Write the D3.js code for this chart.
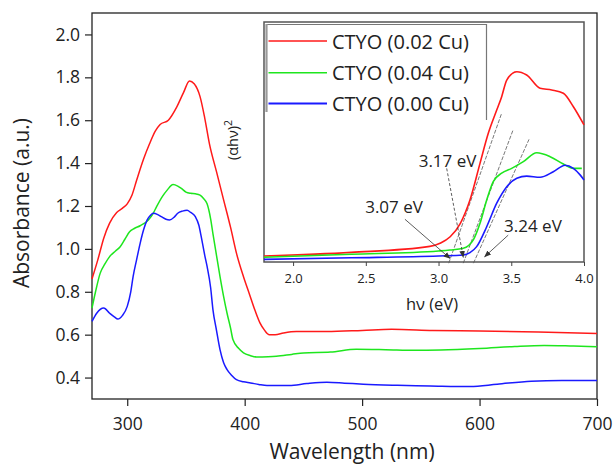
<!DOCTYPE html>
<html>
<head>
<meta charset="utf-8">
<script src="https://cdn.jsdelivr.net/npm/d3@7"></script>
<style>
  body { margin: 0; background: #fff; }
  svg { display: block; font-family: "Open Sans", sans-serif; }
</style>
</head>
<body>
<svg id="chart" width="614" height="465"></svg>
<script>

// main spectra: [wavelength nm, absorbance]
var cu002 = [[270,0.86],[275,0.95],[280,1.05],[285,1.12],[291,1.17],[296,1.19],[300,1.21],[304,1.25],[308,1.32],[314,1.42],[319,1.49],[324,1.55],[328,1.58],[335,1.60],[342,1.66],[348,1.73],[353,1.783],[357,1.77],[362,1.71],[366,1.61],[370,1.49],[376,1.36],[382,1.23],[388,1.10],[393,0.98],[399,0.87],[404,0.79],[409,0.71],[413,0.655],[417,0.62],[421,0.60],[426,0.60],[433,0.608],[444,0.615],[470,0.615],[500,0.62],[525,0.625],[560,0.62],[600,0.617],[650,0.612],[700,0.606]];

var cu004 = [[270,0.724],[273,0.80],[277,0.887],[281,0.93],[285,0.964],[290,0.99],[294,1.01],[298,1.045],[302,1.08],[306,1.095],[311,1.108],[318,1.135],[322,1.165],[325,1.197],[330,1.245],[334,1.274],[339,1.30],[343,1.293],[346,1.282],[350,1.265],[354,1.259],[358,1.257],[362,1.251],[365,1.235],[368,1.21],[371,1.14],[373,1.07],[376,0.97],[379,0.871],[382,0.78],[385,0.70],[388,0.63],[390,0.577],[395,0.535],[399,0.515],[405,0.502],[410,0.496],[420,0.497],[427,0.499],[440,0.508],[450,0.515],[473,0.519],[495,0.532],[520,0.53],[545,0.527],[567,0.528],[600,0.535],[630,0.545],[655,0.55],[680,0.547],[700,0.544]];

var cu000 = [[270,0.662],[274,0.70],[280,0.724],[285,0.70],[289,0.683],[292,0.673],[296,0.69],[300,0.732],[303,0.80],[305,0.871],[308,0.95],[311,1.026],[314,1.09],[317,1.135],[320,1.158],[322,1.166],[326,1.16],[329,1.15],[333,1.138],[336,1.135],[340,1.148],[343,1.166],[347,1.176],[351,1.18],[354,1.17],[358,1.15],[361,1.11],[363,1.057],[366,0.97],[368,0.918],[371,0.82],[373,0.716],[376,0.62],[379,0.53],[382,0.47],[385,0.437],[389,0.41],[393,0.39],[399,0.38],[405,0.375],[412,0.368],[419,0.363],[438,0.363],[453,0.372],[470,0.378],[485,0.374],[501,0.369],[530,0.364],[558,0.361],[592,0.358],[615,0.369],[644,0.383],[670,0.386],[700,0.386]];

// inset Tauc plot: [hv eV, (ahv)^2 arb. units]
var taucCu002 = [[1.8,2.5],[2.4,4.0],[2.94,6.5],[3.01,7.8],[3.08,10.5],[3.15,16.1],[3.216,25.8],[3.285,41.1],[3.342,53.6],[3.40,63.3],[3.434,68.9],[3.469,75.8],[3.538,79.3],[3.606,77.9],[3.698,72.4],[3.778,71.7],[3.858,70.3],[3.927,64.7],[4.0,57.1]];
var taucCu004 = [[1.8,2.0],[2.4,3.2],[3.0,4.6],[3.078,5.0],[3.17,5.7],[3.239,9.2],[3.285,16.1],[3.331,25.8],[3.376,33.5],[3.434,37.0],[3.503,39.0],[3.583,41.8],[3.675,45.5],[3.767,43.9],[3.858,40.8],[3.927,39.0],[3.985,39.0]];
var taucCu000 = [[1.8,1.1],[2.4,1.75],[3.0,2.5],[3.17,2.9],[3.216,3.9],[3.262,6.4],[3.331,14.7],[3.40,24.5],[3.469,31.4],[3.538,34.9],[3.606,35.8],[3.698,35.3],[3.789,37.6],[3.87,40.3],[3.927,39.0],[3.973,36.3],[4.0,34.2]];

// band gap tangents: intercept eV and the upper end of each line
var gapValues = [3.07, 3.17, 3.24];
var tangentTops = [[3.434,62],[3.514,55.3],[3.622,51.1]];

var seriesNames = ["CTYO (0.02 Cu)", "CTYO (0.04 Cu)", "CTYO (0.00 Cu)"];
var seriesColors = ["#ff1a1a", "#1ee61e", "#1a1aff"];

var xTicks = [300, 400, 500, 600, 700];
var yTicks = [0.4, 0.6, 0.8, 1.0, 1.2, 1.4, 1.6, 1.8, 2.0];
var insetTicks = [2.0, 2.5, 3.0, 3.5, 4.0];

var svg = d3.select('#chart');

var x = d3.scaleLinear().domain([270, 700]).range([92, 597]);
var y = d3.scaleLinear().domain([0.3, 2.1]).range([399, 13]);

var ink = '#222';

// main frame
svg.append('rect')
    .attr('x', 92).attr('y', 13)
    .attr('width', 505).attr('height', 386)
    .attr('fill', 'none')
    .attr('stroke', ink)
    .attr('stroke-width', 1.3);

// x axis, minor ticks at 50 nm
var xAxis = svg.append('g').attr('transform', 'translate(0,399)');
xAxis.call(d3.axisBottom(x).tickValues(d3.range(300, 701, 50)).tickSize(4).tickFormat(''));
xAxis.call(d3.axisBottom(x).tickValues(xTicks).tickSize(7).tickFormat(d3.format('d')).tickPadding(12));
xAxis.selectAll('.domain').remove();
xAxis.selectAll('line').attr('stroke', ink).attr('stroke-width', 1.2);
xAxis.selectAll('text').attr('fill', ink).style('font-size', '17.5px').style('font-family', '"Open Sans", sans-serif');

var yAxis = svg.append('g').attr('transform', 'translate(92,0)');
yAxis.call(d3.axisLeft(y).tickValues(d3.range(0.3, 2.11, 0.1)).tickSize(3.5).tickFormat(''));
yAxis.call(d3.axisLeft(y).tickValues(yTicks).tickSize(7).tickFormat(d3.format('.1f')).tickPadding(5));
yAxis.selectAll('.domain').remove();
yAxis.selectAll('line').attr('stroke', ink).attr('stroke-width', 1.2);
yAxis.selectAll('text').attr('fill', ink).style('font-size', '17.5px').style('font-family', '"Open Sans", sans-serif');

svg.append('text')
    .attr('x', 352).attr('y', 459)
    .attr('text-anchor', 'middle')
    .attr('fill', ink)
    .style('font-size', '21px')
    .text('Wavelength (nm)');

svg.append('text')
    .attr('transform', 'translate(29,203) rotate(-90)')
    .attr('text-anchor', 'middle')
    .attr('fill', ink)
    .style('font-size', '21px')
    .text('Absorbance (a.u.)');

var line = d3.line()
    .x(d => x(d[0]))
    .y(d => y(d[1]))
    .curve(d3.curveMonotoneX);

var mainData = [cu002, cu004, cu000];
mainData.forEach(function(d, i){
    svg.append('path')
        .attr('d', line(d))
        .attr('fill', 'none')
        .attr('stroke', seriesColors[i])
        .attr('stroke-width', 1.5);
});

// ---- inset ----
var ix = d3.scaleLinear().domain([1.8, 4.0]).range([264, 584]);
var iy = d3.scaleLinear().domain([0, 100]).range([262, 22]);

svg.append('rect')
    .attr('x', 264).attr('y', 22)
    .attr('width', 320).attr('height', 240)
    .attr('fill', '#fff')
    .attr('stroke', '#555')
    .attr('stroke-width', 1.5);

var insetAxis = svg.append('g').attr('transform', 'translate(0,262)');
insetAxis.call(d3.axisBottom(ix).tickValues(d3.range(2.0, 4.01, 0.25)).tickSize(2.5).tickFormat(''));
insetAxis.call(d3.axisBottom(ix).tickValues(insetTicks).tickSize(4).tickFormat(d3.format('.1f')).tickPadding(8));
insetAxis.selectAll('.domain').remove();
insetAxis.selectAll('line').attr('stroke', '#444').attr('stroke-width', 1);
insetAxis.selectAll('text').attr('fill', ink).style('font-size', '13px').style('font-family', '"Open Sans", sans-serif');

svg.append('text')
    .attr('x', 432).attr('y', 310)
    .attr('text-anchor', 'middle')
    .attr('fill', ink)
    .style('font-size', '16.5px')
    .text('h\u03bd (eV)');

var taucLabel = svg.append('text')
    .attr('transform', 'translate(238,140) rotate(-90)')
    .attr('text-anchor', 'middle')
    .attr('fill', ink)
    .style('font-size', '14.5px');
taucLabel.append('tspan').text('(\u03b1h\u03bd)');
taucLabel.append('tspan').attr('dy', -6).style('font-size', '10.5px').text('2');

var insetLine = d3.line()
    .x(d => ix(d[0]))
    .y(d => iy(d[1]))
    .curve(d3.curveMonotoneX);

// tangent lines for the band gap
gapValues.forEach(function(g, i){
    svg.append('line')
        .attr('x1', ix(g)).attr('y1', iy(-0.5))
        .attr('x2', ix(tangentTops[i][0])).attr('y2', iy(tangentTops[i][1]))
        .attr('stroke', '#555')
        .attr('stroke-width', 0.8)
        .attr('stroke-dasharray', '4,1.5');
});

var insetData = [taucCu002, taucCu004, taucCu000];
insetData.forEach(function(d, i){
    svg.append('path')
        .attr('d', insetLine(d))
        .attr('fill', 'none')
        .attr('stroke', seriesColors[i])
        .attr('stroke-width', 1.6);
});

// arrow heads
svg.append('defs').append('marker')
    .attr('id', 'arrow')
    .attr('viewBox', '0 0 10 10')
    .attr('refX', 9).attr('refY', 5)
    .attr('markerWidth', 7).attr('markerHeight', 7)
    .attr('markerUnits', 'userSpaceOnUse')
    .attr('orient', 'auto')
    .append('path')
    .attr('d', 'M0,1 L10,5 L0,9 Z')
    .attr('fill', '#333');

// annotation labels and their arrows (inset data units)
var gapLabels = [
    {text: '3.07 eV', lx: 2.694, ly: 23.0, from: [2.769, 17.8], to: [3.079, 1.5], dash: null},
    {text: '3.17 eV', lx: 3.062, ly: 42.2, from: [3.056, 39.0], to: [3.17, 2.0], dash: '3,2'},
    {text: '3.24 eV', lx: 3.649, ly: 15.4, from: [3.479, 11.2], to: [3.317, 2.2], dash: null}
];

gapLabels.forEach(function(a){
    svg.append('line')
        .attr('x1', ix(a.from[0])).attr('y1', iy(a.from[1]))
        .attr('x2', ix(a.to[0])).attr('y2', iy(a.to[1]))
        .attr('stroke', '#333')
        .attr('stroke-width', 0.8)
        .attr('stroke-dasharray', a.dash)
        .attr('marker-end', 'url(#arrow)');

    svg.append('text')
        .attr('x', ix(a.lx)).attr('y', iy(a.ly))
        .attr('text-anchor', 'middle')
        .attr('dominant-baseline', 'central')
        .attr('fill', ink)
        .style('font-size', '17px')
        .text(a.text);
});

// legend
var legend = svg.append('g');
legend.append('path')
    .attr('d', 'M486.5,120 V24.5 H266.5')
    .attr('fill', 'none')
    .attr('stroke', '#777')
    .attr('stroke-width', 1.2);
legend.append('line')
    .attr('x1', 266.5).attr('y1', 24).attr('x2', 266.5).attr('y2', 112)
    .attr('stroke', '#999')
    .attr('stroke-width', 2.2);

var legendY = [41, 72.7, 103.5];
seriesNames.forEach(function(name, i){
    legend.append('line')
        .attr('x1', 268.5).attr('x2', 327)
        .attr('y1', legendY[i]).attr('y2', legendY[i])
        .attr('stroke', seriesColors[i])
        .attr('stroke-width', i == 2 ? 2 : 1.5);
    legend.append('text')
        .attr('x', 332).attr('y', legendY[i])
        .attr('dominant-baseline', 'central')
        .attr('fill', ink)
        .style('font-size', '20px')
        .text(name);
});

</script>
</body>
</html>
